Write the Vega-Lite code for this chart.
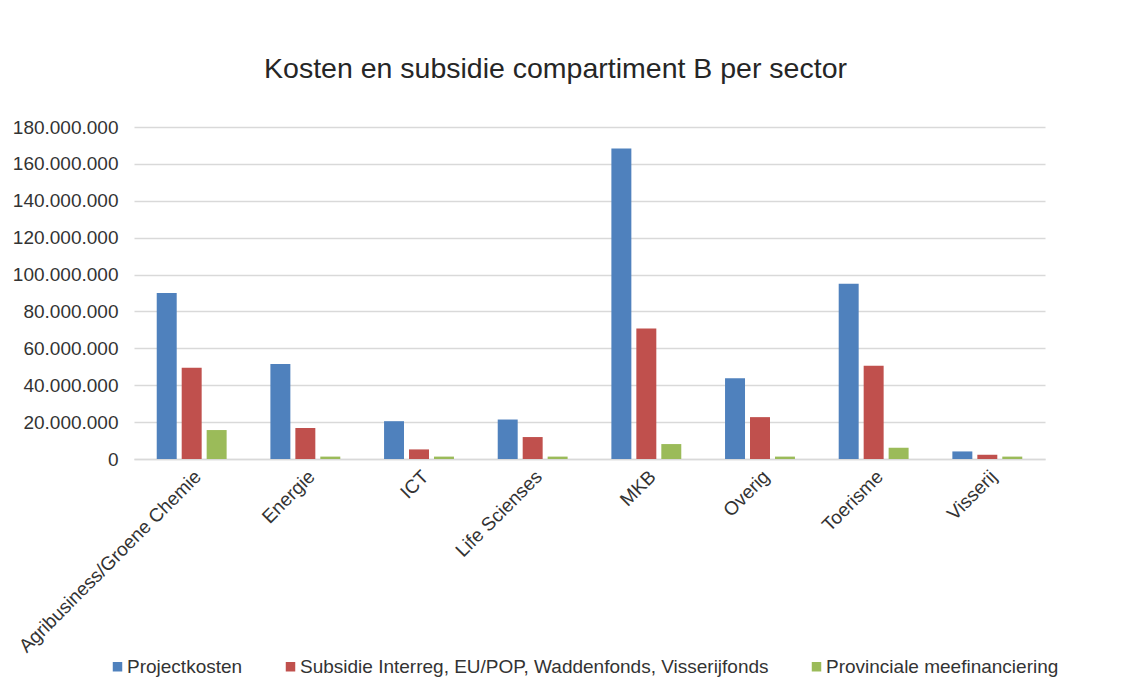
{
  "$schema": "https://vega.github.io/schema/vega-lite/v6.json",
  "autosize": {"type": "none"},
  "width": 911,
  "height": 332,
  "padding": {"left": 134, "top": 127, "right": 98, "bottom": 229},
  "background": "white",
  "title": {
    "text": "Kosten en subsidie compartiment B per sector",
    "fontSize": 28.5,
    "font": "Liberation Sans",
    "fontWeight": "normal",
    "color": "#262626",
    "anchor": "middle",
    "dx": -34,
    "baseline": "alphabetic",
    "offset": 12
  },
  "data": {
    "values": [
      {"sector": "Agribusiness/Groene Chemie", "serie": "Projectkosten", "bedrag": 90000000},
      {"sector": "Agribusiness/Groene Chemie", "serie": "Subsidie Interreg, EU/POP, Waddenfonds, Visserijfonds", "bedrag": 49500000},
      {"sector": "Agribusiness/Groene Chemie", "serie": "Provinciale meefinanciering", "bedrag": 15700000},
      {"sector": "Energie", "serie": "Projectkosten", "bedrag": 51500000},
      {"sector": "Energie", "serie": "Subsidie Interreg, EU/POP, Waddenfonds, Visserijfonds", "bedrag": 16800000},
      {"sector": "Energie", "serie": "Provinciale meefinanciering", "bedrag": 1300000},
      {"sector": "ICT", "serie": "Projectkosten", "bedrag": 20500000},
      {"sector": "ICT", "serie": "Subsidie Interreg, EU/POP, Waddenfonds, Visserijfonds", "bedrag": 5200000},
      {"sector": "ICT", "serie": "Provinciale meefinanciering", "bedrag": 1300000},
      {"sector": "Life Scienses", "serie": "Projectkosten", "bedrag": 21400000},
      {"sector": "Life Scienses", "serie": "Subsidie Interreg, EU/POP, Waddenfonds, Visserijfonds", "bedrag": 11900000},
      {"sector": "Life Scienses", "serie": "Provinciale meefinanciering", "bedrag": 1300000},
      {"sector": "MKB", "serie": "Projectkosten", "bedrag": 168300000},
      {"sector": "MKB", "serie": "Subsidie Interreg, EU/POP, Waddenfonds, Visserijfonds", "bedrag": 70800000},
      {"sector": "MKB", "serie": "Provinciale meefinanciering", "bedrag": 8100000},
      {"sector": "Overig", "serie": "Projectkosten", "bedrag": 43800000},
      {"sector": "Overig", "serie": "Subsidie Interreg, EU/POP, Waddenfonds, Visserijfonds", "bedrag": 22700000},
      {"sector": "Overig", "serie": "Provinciale meefinanciering", "bedrag": 1300000},
      {"sector": "Toerisme", "serie": "Projectkosten", "bedrag": 95000000},
      {"sector": "Toerisme", "serie": "Subsidie Interreg, EU/POP, Waddenfonds, Visserijfonds", "bedrag": 50600000},
      {"sector": "Toerisme", "serie": "Provinciale meefinanciering", "bedrag": 6100000},
      {"sector": "Visserij", "serie": "Projectkosten", "bedrag": 4100000},
      {"sector": "Visserij", "serie": "Subsidie Interreg, EU/POP, Waddenfonds, Visserijfonds", "bedrag": 2300000},
      {"sector": "Visserij", "serie": "Provinciale meefinanciering", "bedrag": 1300000}
    ]
  },
  "mark": {"type": "bar"},
  "encoding": {
    "x": {
      "field": "sector",
      "type": "nominal",
      "sort": null,
      "scale": {"paddingInner": 0.385, "paddingOuter": 0.2},
      "axis": {
        "title": null,
        "labelAngle": -45,
        "labelFontSize": 19,
        "labelFont": "Liberation Sans",
        "labelColor": "#333333",
        "labelPadding": 8,
        "ticks": false,
        "domain": true,
        "domainColor": "#d9d9d9",
        "domainWidth": 1.5,
        "labelLimit": 400
      }
    },
    "xOffset": {
      "field": "serie",
      "type": "nominal",
      "sort": ["Projectkosten", "Subsidie Interreg, EU/POP, Waddenfonds, Visserijfonds", "Provinciale meefinanciering"],
      "scale": {"paddingInner": 0.2, "paddingOuter": 0}
    },
    "y": {
      "field": "bedrag",
      "type": "quantitative",
      "scale": {"domain": [0, 180000000], "nice": false},
      "axis": {
        "title": null,
        "values": [0, 20000000, 40000000, 60000000, 80000000, 100000000, 120000000, 140000000, 160000000, 180000000],
        "format": ",d",
        "labelFontSize": 19,
        "labelFont": "Liberation Sans",
        "labelColor": "#333333",
        "labelPadding": 16,
        "ticks": false,
        "domain": false,
        "gridColor": "#d9d9d9",
        "gridWidth": 1.5
      }
    },
    "color": {
      "field": "serie",
      "type": "nominal",
      "scale": {
        "domain": ["Projectkosten", "Subsidie Interreg, EU/POP, Waddenfonds, Visserijfonds", "Provinciale meefinanciering"],
        "range": ["#4F81BD", "#C0504D", "#9BBB59"]
      },
      "legend": {
        "title": null,
        "orient": "none",
        "direction": "horizontal",
        "legendX": -26,
        "legendY": 530,
        "symbolType": "square",
        "symbolSize": 90,
        "symbolStrokeWidth": 0,
        "labelFontSize": 19,
        "labelFont": "Liberation Sans",
        "labelColor": "#333333",
        "labelOffset": 0,
        "columnPadding": 38,
        "labelLimit": 600
      }
    }
  },
  "config": {
    "locale": {
      "number": {
        "decimal": ",",
        "thousands": ".",
        "grouping": [3],
        "currency": ["€", ""]
      }
    },
    "view": {"stroke": null}
  }
}
